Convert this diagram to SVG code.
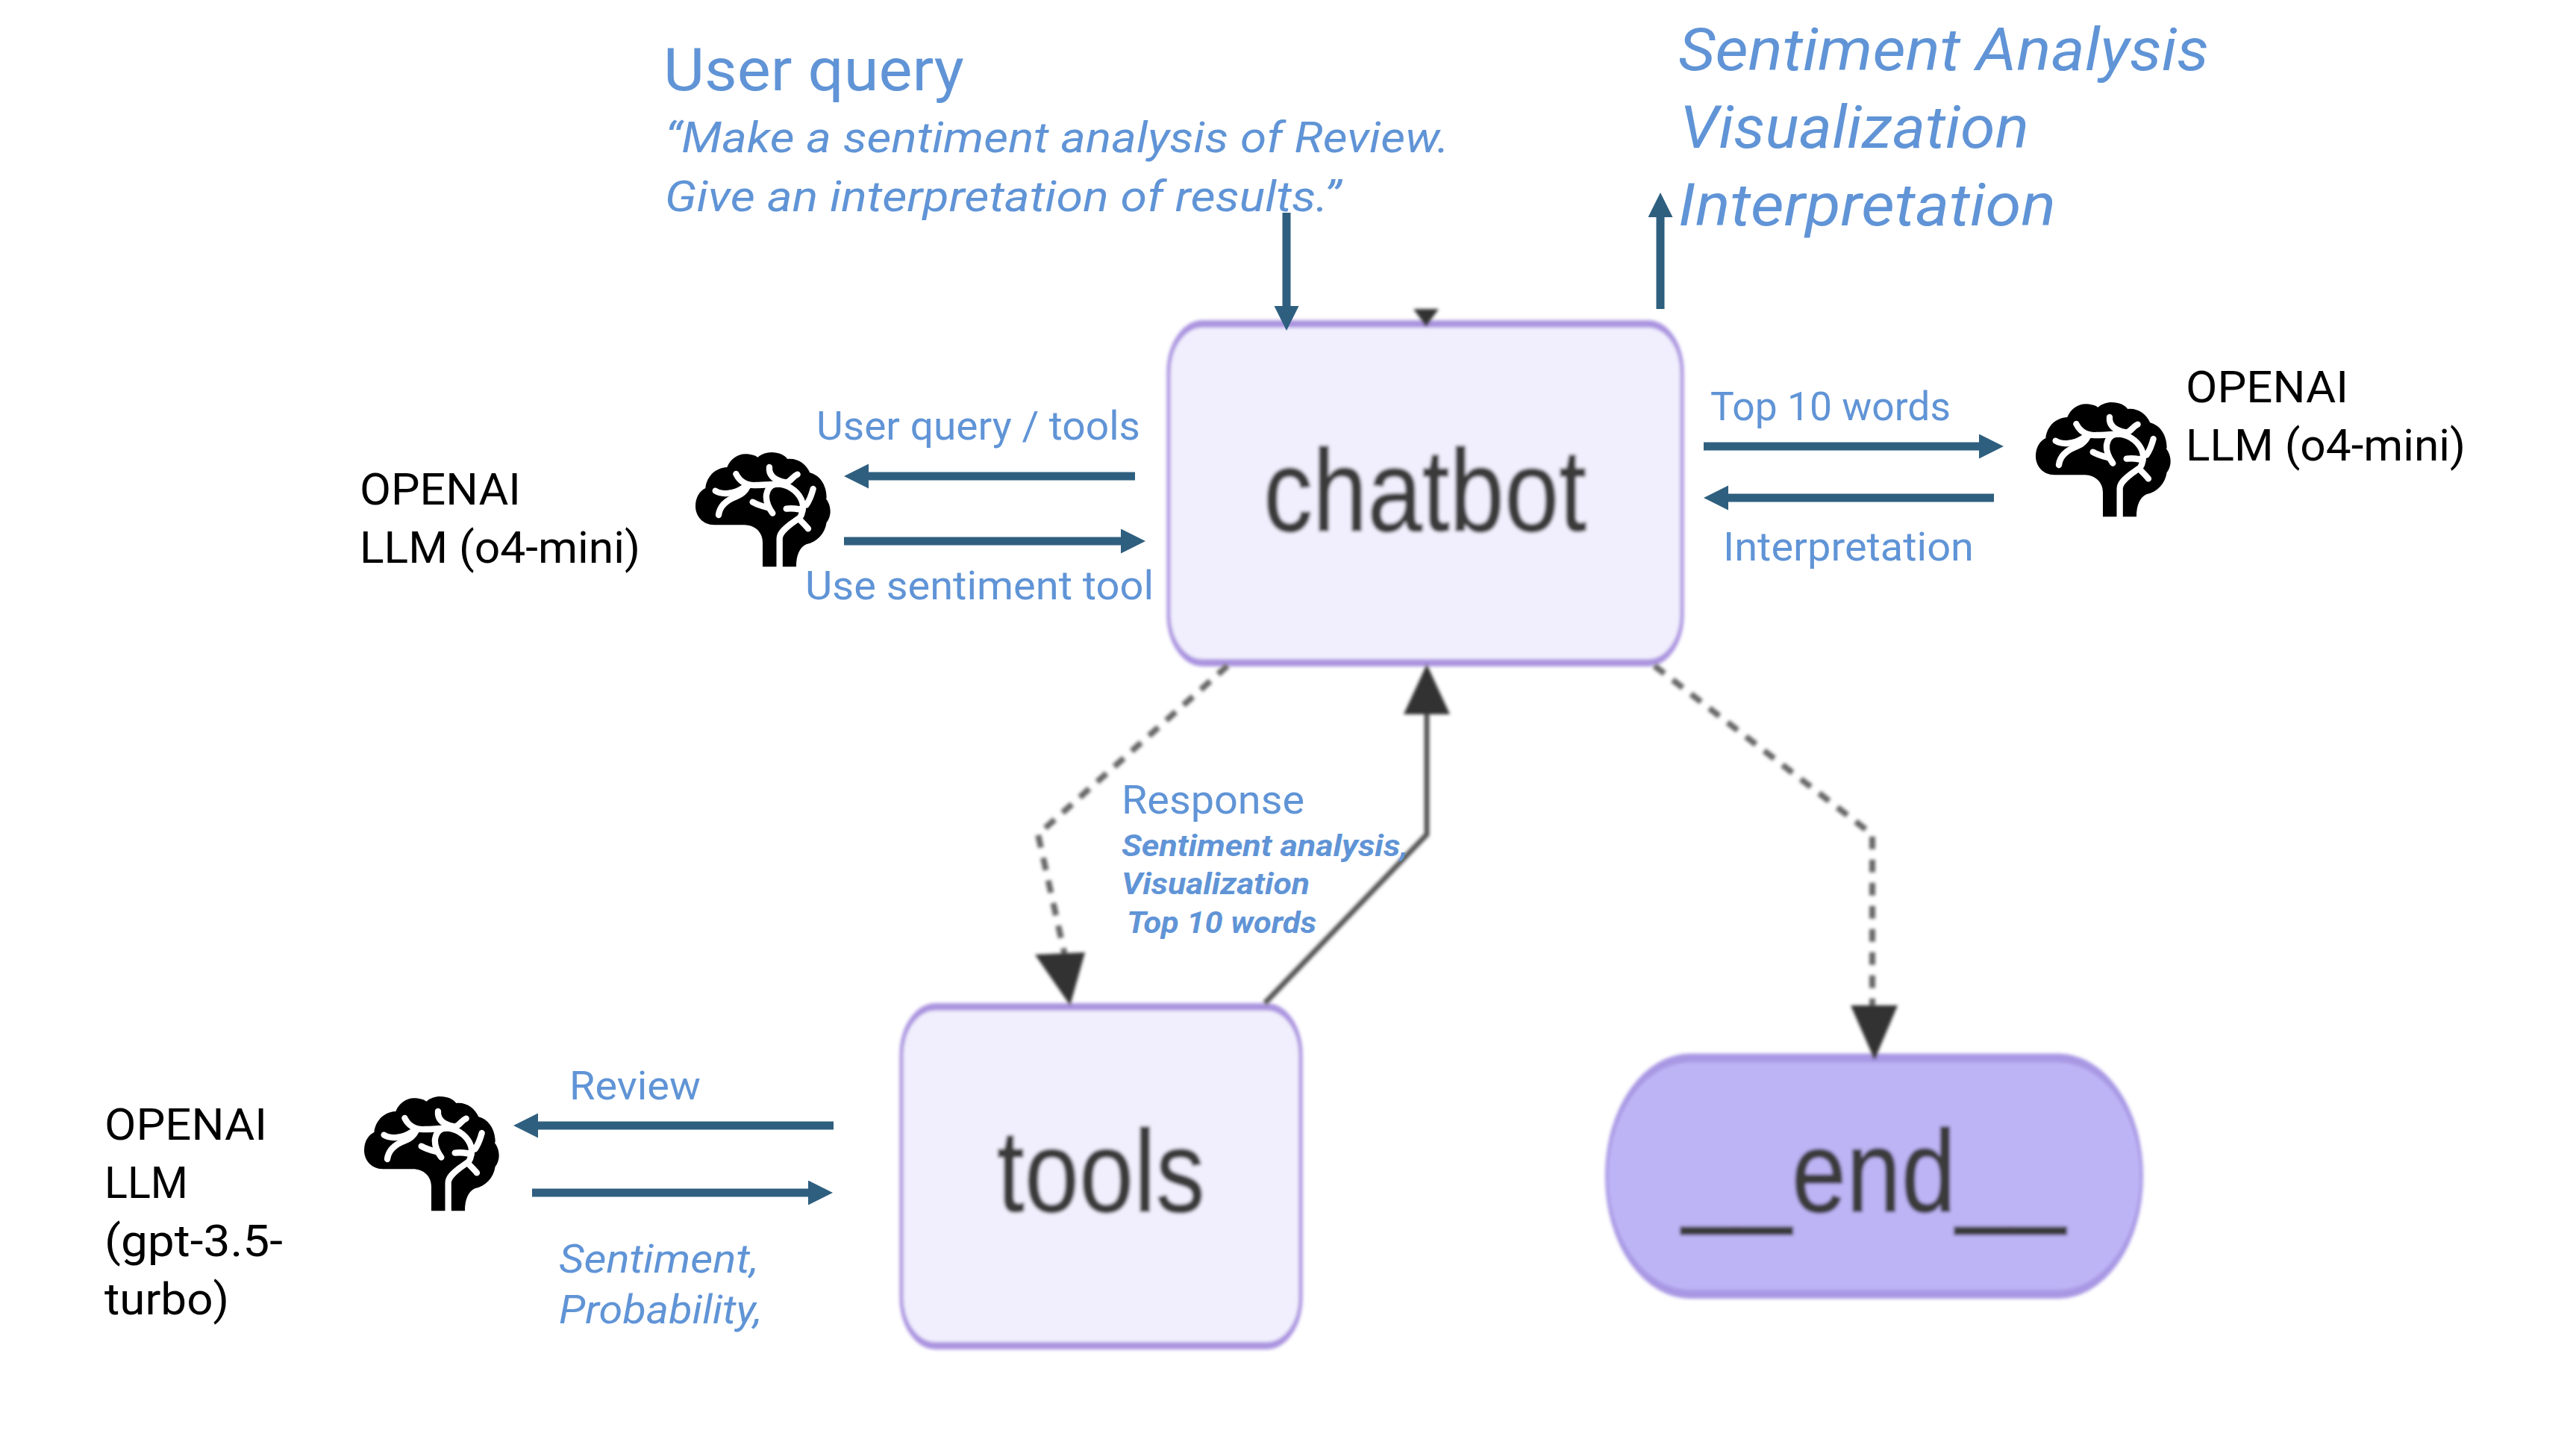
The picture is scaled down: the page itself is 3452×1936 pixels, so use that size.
<svg xmlns="http://www.w3.org/2000/svg" width="3452" height="1936" viewBox="0 0 3452 1936">
  <style>
    text { font-family: Roboto, "Liberation Sans", Arial, sans-serif; }
    .b { fill: #6094d6; }
    .k { fill: #000; font-size: 60px; }
    .i { font-style: italic; }
    .big { font-size: 80px; }
    .mid { font-size: 58px; }
    .sm { font-size: 54px; }
    .tiny { font-size: 40px; font-weight: bold; font-style: italic; }
    .node { fill: #f1effd; stroke: #ab94e0; stroke-width: 5; }
    .endn { fill: #bdb4f5; stroke: #a898e4; stroke-width: 4; }
    .lbl { font-family: "Liberation Sans", Arial, sans-serif; font-size: 132px; fill: #3a3a3a; stroke: #3a3a3a; stroke-width: 1.5; }
    .flow { fill: none; stroke: #2f5f7f; stroke-width: 11; marker-end: url(#blue); }
    .solid { fill: none; stroke: #555; stroke-width: 7; }
    .dash { fill: none; stroke: #666; stroke-width: 8; stroke-dasharray: 17 14; }
    .mh { fill: #333; }
    .brainw { fill: none; stroke: #fff; stroke-width: 25; stroke-linecap: round; stroke-linejoin: round; }
  </style>
  <defs>
    <marker id="blue" markerUnits="userSpaceOnUse" markerWidth="34" markerHeight="34" refX="0" refY="16.5" orient="auto">
      <path d="M0 0L33 16.5L0 33z" fill="#2f5f7f"/>
    </marker>
    <filter id="soft" x="-5%" y="-5%" width="110%" height="110%"><feGaussianBlur stdDeviation="2"/></filter>
    <g id="brain">
      <g transform="scale(.3333)">
        <path fill="#000" d="M270 460V362C270 322 240 292 195 292H75C30 292 0 257 0 217C0 182 15 157 40 144C45 97 80 62 127 60C140 27 170 7 200 7C220 7 240 12 250 20C265 7 285 0 305 0C335 0 360 12 370 27C410 22 445 47 460 82C500 92 527 132 527 182L525 187C537 202 542 222 542 237C542 257 535 272 527 282C520 327 490 360 445 370C420 382 405 412 405 460Z"/>
        <path class="brainw" d="M338 470V347C338 327 355 310 385 287L420 262C430 247 435 222 430 202C420 167 385 132 335 127C305 127 290 142 285 172C283 192 290 217 310 245"/>
        <path class="brainw" d="M163 87C180 122 210 134 245 132C285 132 325 127 335 127"/>
        <path class="brainw" d="M80 155C105 172 155 167 190 144L210 132"/>
        <path class="brainw" d="M93 252C97 217 125 192 165 177C185 170 200 157 210 137"/>
        <path class="brainw" d="M230 200C250 212 270 217 290 222"/>
        <path class="brainw" d="M297 60C295 87 310 107 345 117L365 122C385 117 390 97 410 89"/>
        <path class="brainw" d="M473 147C465 177 460 192 445 212"/>
        <path class="brainw" d="M365 227C385 224 415 227 430 232"/>
        <path class="brainw" d="M420 272C430 282 445 297 453 307"/>
      </g>
    </g>
  </defs>
  <rect width="3452" height="1936" fill="#fff"/>

  <g id="node-chatbot" filter="url(#soft)">
    <rect class="node" transform="scale(1,2)" x="1566" y="217" width="688" height="227" rx="46" ry="32"/>
    <text class="lbl" transform="translate(1693,711) scale(1,1.18)">chatbot</text>
  </g>
  <g id="node-tools" filter="url(#soft)">
    <rect class="node" transform="scale(1,2)" x="1208" y="674.5" width="535" height="227" rx="46" ry="32"/>
    <text class="lbl" transform="translate(1336,1623) scale(1,1.18)">tools</text>
  </g>
  <g id="node-end" filter="url(#soft)">
    <rect class="endn" transform="scale(1,3)" x="2153" y="472.5" width="717" height="105.5" rx="112" ry="52.7"/>
    <text class="lbl" transform="translate(2254,1623) scale(1,1.18)">__end__</text>
  </g>

  <g id="connectors">
    <g filter="url(#soft)">
      <path class="dash" d="M1645 892L1391 1118L1427 1280"/>
      <polygon class="mh" points="1434,1347 1387,1279 1454,1276"/>
      <path class="solid" d="M1695 1344L1912 1118V950"/>
      <polygon class="mh" points="1912,890 1881,957 1943,957"/>
      <path class="dash" d="M2217 892L2509 1118V1350"/>
      <polygon class="mh" points="2512,1420 2480,1347 2543,1347"/>
      <polygon class="mh" points="1911,437 1894,414 1928,414"/>
    </g>
    <path class="flow" d="M1724 285V410"/>
    <path class="flow" d="M2225 414V291"/>
    <path class="flow" d="M1521 638H1164"/>
    <path class="flow" d="M1131 725H1502"/>
    <path class="flow" d="M2283 598H2652"/>
    <path class="flow" d="M2672 667H2316"/>
    <path class="flow" d="M1117 1508H721"/>
    <path class="flow" d="M713 1598H1083"/>
  </g>

  <g id="brain-left"><use href="#brain" x="932" y="606"/></g>
  <g id="brain-right"><use href="#brain" x="2728" y="539"/></g>
  <g id="brain-bottom"><use href="#brain" x="488" y="1469"/></g>

  <g id="labels">
    <text class="b big" x="889" y="121" textLength="403" lengthAdjust="spacingAndGlyphs">User query</text>
    <text class="b mid i" x="891" y="204" textLength="1051" lengthAdjust="spacingAndGlyphs">“Make a sentiment analysis of Review.</text>
    <text class="b mid i" x="891" y="283" textLength="906" lengthAdjust="spacingAndGlyphs">Give an interpretation of results.”</text>
    <text class="b big i" x="2249" y="94" textLength="711" lengthAdjust="spacingAndGlyphs">Sentiment Analysis</text>
    <text class="b big i" x="2251" y="198" textLength="468" lengthAdjust="spacingAndGlyphs">Visualization</text>
    <text class="b big i" x="2249" y="302" textLength="506" lengthAdjust="spacingAndGlyphs">Interpretation</text>
    <text class="b sm" x="1094" y="589" textLength="434" lengthAdjust="spacingAndGlyphs">User query / tools</text>
    <text class="b sm" x="1079" y="803" textLength="467" lengthAdjust="spacingAndGlyphs">Use sentiment tool</text>
    <text class="b sm" x="2292" y="563" textLength="322" lengthAdjust="spacingAndGlyphs">Top 10 words</text>
    <text class="b sm" x="2309" y="751" textLength="336" lengthAdjust="spacingAndGlyphs">Interpretation</text>
    <text class="b sm" x="1503" y="1090" textLength="245" lengthAdjust="spacingAndGlyphs">Response</text>
    <text class="b tiny" x="1503" y="1147" textLength="384" lengthAdjust="spacingAndGlyphs">Sentiment analysis,</text>
    <text class="b tiny" x="1503" y="1198" textLength="252" lengthAdjust="spacingAndGlyphs">Visualization</text>
    <text class="b tiny" x="1510" y="1250" textLength="254" lengthAdjust="spacingAndGlyphs">Top 10 words</text>
    <text class="b sm" x="763" y="1473" textLength="176" lengthAdjust="spacingAndGlyphs">Review</text>
    <text class="b sm i" x="749" y="1705" textLength="267" lengthAdjust="spacingAndGlyphs">Sentiment,</text>
    <text class="b sm i" x="749" y="1773" textLength="272" lengthAdjust="spacingAndGlyphs">Probability,</text>
    <text class="k" x="482" y="676" textLength="216" lengthAdjust="spacingAndGlyphs">OPENAI</text>
    <text class="k" x="482" y="754" textLength="376" lengthAdjust="spacingAndGlyphs">LLM (o4-mini)</text>
    <text class="k" x="2929" y="539" textLength="218" lengthAdjust="spacingAndGlyphs">OPENAI</text>
    <text class="k" x="2929" y="617" textLength="375" lengthAdjust="spacingAndGlyphs">LLM (o4-mini)</text>
    <text class="k" x="140" y="1527" textLength="218" lengthAdjust="spacingAndGlyphs">OPENAI</text>
    <text class="k" x="140" y="1605" textLength="112" lengthAdjust="spacingAndGlyphs">LLM</text>
    <text class="k" x="140" y="1683" textLength="239" lengthAdjust="spacingAndGlyphs">(gpt-3.5-</text>
    <text class="k" x="140" y="1761" textLength="167" lengthAdjust="spacingAndGlyphs">turbo)</text>
  </g>
</svg>
